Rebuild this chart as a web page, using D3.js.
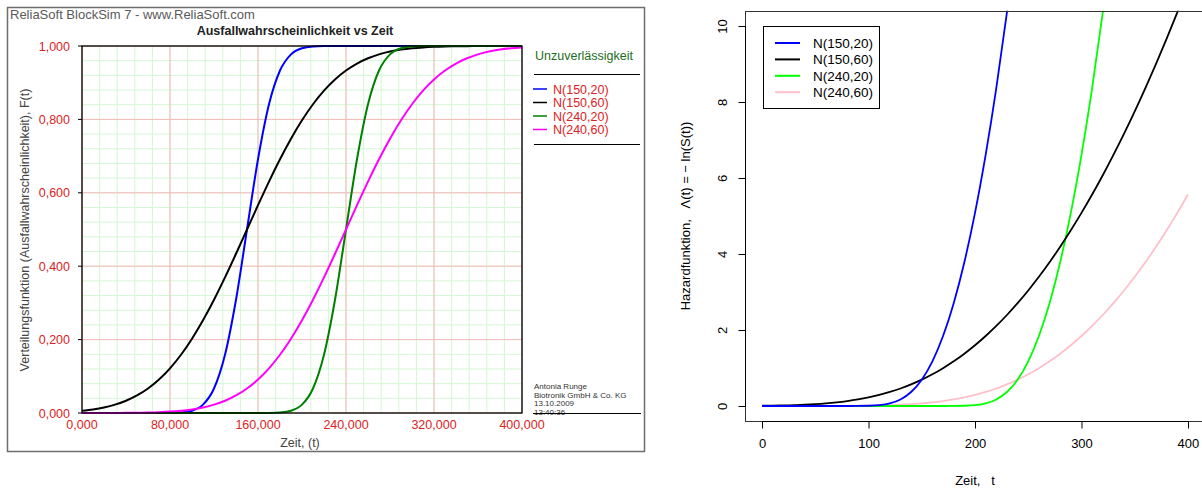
<!DOCTYPE html>
<html>
<head>
<meta charset="utf-8">
<script src="https://cdn.jsdelivr.net/npm/d3@7"></script>
<style>
html,body{margin:0;padding:0;background:#fff;}
svg{display:block;}
</style>
</head>
<body>
<svg id="chart" width="1202" height="488"></svg>
<script>
// ---------------- DATA ----------------
const seriesNames = ["N(150,20)", "N(150,60)", "N(240,20)", "N(240,60)"];
const timeGrid = [0,10,20,30,40,50,60,70,80,90,100,110,120,130,140,150,160,170,180,190,200,
  210,220,230,240,250,260,270,280,290,300,310,320,330,340,350,360,370,380,390,400];

// Left chart: unreliability F(t)
const F_150_20 = [0,0,0,0,0,0,0.0000034,0.0000317,0.000233,0.00135,0.00621,0.02275,0.06681,0.15866,0.30854,0.5,
  0.69146,0.84134,0.93319,0.97725,0.99379,0.99865,0.99977,0.99997,1,1,1,1,1,1,1,1,1,1,1,1,1,1,1,1,1];
const F_150_60 = [0.00621,0.00982,0.01513,0.02275,0.03338,0.04779,0.06681,0.09121,0.12167,0.15866,0.20233,
  0.25249,0.30854,0.36944,0.43381,0.5,0.56619,0.63056,0.69146,0.74751,0.79767,0.84134,0.87833,0.90879,0.93319,
  0.95221,0.96662,0.97725,0.98487,0.99018,0.99379,0.99617,0.99770,0.99865,0.99923,0.99957,0.99977,0.99988,0.99994,0.99997,0.99998];
const F_240_20 = [0,0,0,0,0,0,0,0,0,0,0,0,0,0,0,0.0000034,0.0000317,0.000233,0.00135,0.00621,0.02275,
  0.06681,0.15866,0.30854,0.5,0.69146,0.84134,0.93319,0.97725,0.99379,0.99865,0.99977,0.99997,1,1,1,1,1,1,1,1];
const F_240_60 = [0.00003,0.00006,0.00012,0.00023,0.00043,0.00077,0.00135,0.0023,0.00383,0.00621,0.00982,
  0.01513,0.02275,0.03338,0.04779,0.06681,0.09121,0.12167,0.15866,0.20233,0.25249,0.30854,0.36944,0.43381,0.5,
  0.56619,0.63056,0.69146,0.74751,0.79767,0.84134,0.87833,0.90879,0.93319,0.95221,0.96662,0.97725,0.98487,0.99018,0.99379,0.99617];

// Right chart: cumulative hazard Λ(t)
const H_150_20 = [0,0,0,0,0,0,0.0000034,0.0000317,0.000233,0.00135,0.00623,0.02301,0.06914,0.17275,0.36895,0.69315,
  1.17591,1.84104,2.70591,3.78324,5.08152,6.6077,8.3652,10.360,12.592];
const H_150_60 = [0.00623,0.00987,0.01522,0.02301,0.03395,0.04897,0.06914,0.09564,0.12974,0.17275,0.22606,
  0.29102,0.36895,0.46113,0.56882,0.69315,0.83515,0.99576,1.17591,1.37639,1.59784,1.84104,2.10648,2.39458,2.70591,
  3.04094,3.39985,3.78324,4.19106,4.62333,5.08152,5.56479,6.0734,6.6077,7.1678,7.7540,8.3652,9.0042,9.669,10.360,11.078];
const H_240_20 = [0,0,0,0,0,0,0,0,0,0,0,0,0,0,0,0.0000034,0.0000317,0.000233,0.00135,0.00623,0.02301,
  0.06914,0.17275,0.36895,0.69315,1.17591,1.84104,2.70591,3.78324,5.08152,6.6077,8.3652,10.360,12.592];
const H_240_60 = [0.00003,0.00006,0.00012,0.00023,0.00043,0.00077,0.00135,0.00231,0.00384,0.00623,0.00987,
  0.01522,0.02301,0.03395,0.04897,0.06914,0.09564,0.12974,0.17275,0.22606,0.29102,0.36895,0.46113,0.56882,0.69315,
  0.83515,0.99576,1.17591,1.37639,1.59784,1.84104,2.10648,2.39458,2.70591,3.04094,3.39985,3.78324,4.19106,4.62333,5.08152,5.56479];

const leftXTicks = [0,80,160,240,320,400];
const leftXTickLabels = ["0,000","80,000","160,000","240,000","320,000","400,000"];
const leftYTicks = [0,0.2,0.4,0.6,0.8,1.0];
const leftYTickLabels = ["0,000","0,200","0,400","0,600","0,800","1,000"];
const rightXTicks = [0,100,200,300,400];
const rightYTicks = [0,2,4,6,8,10];

const leftColors = ["#0000ff","#000000","#008000","#ff00ff"];
const rightColors = ["#0000ff","#000000","#00ff00","#ffc0cb"];

// ---------------- DRAW ----------------
const svg = d3.select("#chart");
const FONT = "'Liberation Sans', Arial, sans-serif";
const RED = "#dd2222";

// ===== LEFT PANEL =====
const L = svg.append("g");
L.append("rect").attr("x",7.5).attr("y",7.5).attr("width",637).attr("height",444)
  .attr("fill","#fff").attr("stroke","#6e6e6e").attr("stroke-width",1.5);

L.append("text").attr("x",10).attr("y",19).attr("font-family",FONT).attr("font-size",13)
  .attr("fill","#5a5a5a").text("ReliaSoft BlockSim 7 - www.ReliaSoft.com");
L.append("text").attr("x",295).attr("y",35).attr("text-anchor","middle").attr("font-family",FONT)
  .attr("font-size",12.5).attr("font-weight","bold").attr("fill","#222").text("Ausfallwahrscheinlichkeit vs Zeit");

const xL = d3.scaleLinear().domain([0,400]).range([82,522]);
const yL = d3.scaleLinear().domain([0,1]).range([413,46]);

// minor grid
const minorX = d3.range(0,401,16), minorY = d3.range(0,1.0001,0.04);
L.append("g").selectAll("line").data(minorX).join("line")
  .attr("x1",d=>xL(d)).attr("x2",d=>xL(d)).attr("y1",yL(0)).attr("y2",yL(1))
  .attr("stroke","#d4f7d4").attr("stroke-width",1);
L.append("g").selectAll("line").data(minorY).join("line")
  .attr("y1",d=>yL(d)).attr("y2",d=>yL(d)).attr("x1",xL(0)).attr("x2",xL(400))
  .attr("stroke","#d4f7d4").attr("stroke-width",1);
// major grid
L.append("g").selectAll("line").data(leftXTicks).join("line")
  .attr("x1",d=>xL(d)).attr("x2",d=>xL(d)).attr("y1",yL(0)).attr("y2",yL(1))
  .attr("stroke","#f5b8b8").attr("stroke-width",1);
L.append("g").selectAll("line").data(leftYTicks).join("line")
  .attr("y1",d=>yL(d)).attr("y2",d=>yL(d)).attr("x1",xL(0)).attr("x2",xL(400))
  .attr("stroke","#f5b8b8").attr("stroke-width",1);

// curves
const leftSeries = [F_150_20, F_150_60, F_240_20, F_240_60];
const lineL = d3.line().x(d=>xL(d[0])).y(d=>yL(d[1])).curve(d3.curveMonotoneX);
leftSeries.forEach((s,i)=>{
  L.append("path").datum(timeGrid.map((t,j)=>[t,s[j]]))
    .attr("d",lineL).attr("fill","none").attr("stroke",leftColors[i]).attr("stroke-width",2);
});

// plot border
L.append("rect").attr("x",xL(0)).attr("y",yL(1)).attr("width",xL(400)-xL(0)).attr("height",yL(0)-yL(1))
  .attr("fill","none").attr("stroke","#000").attr("stroke-width",1.3);

// y ticks and labels
L.append("g").selectAll("line").data(leftYTicks).join("line")
  .attr("x1",xL(0)-4).attr("x2",xL(0)).attr("y1",d=>yL(d)).attr("y2",d=>yL(d)).attr("stroke","#000");
L.append("g").selectAll("text").data(leftYTicks).join("text")
  .attr("x",70).attr("y",d=>yL(d)+4.5).attr("text-anchor","end")
  .attr("font-family",FONT).attr("font-size",12.5).attr("fill",RED).text((d,i)=>leftYTickLabels[i]);
// x labels
L.append("g").selectAll("text").data(leftXTicks).join("text")
  .attr("x",d=>xL(d)).attr("y",429).attr("text-anchor","middle")
  .attr("font-family",FONT).attr("font-size",12.5).attr("fill",RED).text((d,i)=>leftXTickLabels[i]);

L.append("text").attr("x",300).attr("y",447).attr("text-anchor","middle").attr("font-family",FONT)
  .attr("font-size",12.5).attr("fill","#444").text("Zeit, (t)");
L.append("text").attr("transform","translate(29,230) rotate(-90)").attr("text-anchor","middle")
  .attr("font-family",FONT).attr("font-size",12.5).attr("fill","#444")
  .text("Verteilungsfunktion (Ausfallwahrscheinlichkeit), F(t)");

// legend
L.append("text").attr("x",535).attr("y",60).attr("font-family",FONT).attr("font-size",12.5)
  .attr("fill","#1b6e1b").text("Unzuverlässigkeit");
L.append("line").attr("x1",534).attr("x2",640).attr("y1",74.5).attr("y2",74.5).attr("stroke","#000");
L.append("line").attr("x1",534).attr("x2",640).attr("y1",144.5).attr("y2",144.5).attr("stroke","#000");
seriesNames.forEach((n,i)=>{
  const yy = 89 + i*13.5;
  L.append("line").attr("x1",533).attr("x2",547).attr("y1",yy).attr("y2",yy)
    .attr("stroke",leftColors[i]).attr("stroke-width",1.5);
  L.append("text").attr("x",553).attr("y",yy+4.5).attr("font-family",FONT).attr("font-size",12.5)
    .attr("fill",RED).text(n);
});

// annotation
const notes = ["Antonia Runge","Biotronik GmbH & Co. KG","13.10.2009","13:40:36"];
notes.forEach((n,i)=>{
  L.append("text").attr("x",534).attr("y",389 + i*8.5).attr("font-family",FONT).attr("font-size",8)
    .attr("fill","#333").text(n);
});
L.append("line").attr("x1",533).attr("x2",641).attr("y1",413.5).attr("y2",413.5).attr("stroke","#000");

// ===== RIGHT PANEL =====
const R = svg.append("g");
const xR = d3.scaleLinear().domain([-16,416]).range([745,1205]);
const yR = d3.scaleLinear().domain([-0.4,10.4]).range([421.2,10.8]);

R.append("clipPath").attr("id","clipR").append("rect")
  .attr("x",xR(-16)).attr("y",yR(10.4)).attr("width",xR(416)-xR(-16)).attr("height",yR(-0.4)-yR(10.4));

const rightSeries = [H_150_20, H_150_60, H_240_20, H_240_60];
const lineR = d3.line().x(d=>xR(d[0])).y(d=>yR(d[1])).curve(d3.curveMonotoneX);
const gc = R.append("g").attr("clip-path","url(#clipR)");
// draw order: pink first so others overlay
[3,2,1,0].forEach(i=>{
  const s = rightSeries[i];
  gc.append("path").datum(s.map((v,j)=>[timeGrid[j],v]))
    .attr("d",lineR).attr("fill","none").attr("stroke",rightColors[i]).attr("stroke-width",1.8);
});

R.append("rect").attr("x",xR(-16)+0.5).attr("y",Math.round(yR(10.4))+0.5)
  .attr("width",xR(416)-xR(-16)).attr("height",Math.round(yR(-0.4))-Math.round(yR(10.4)))
  .attr("fill","none").attr("stroke","#333").attr("stroke-width",1);

const axB = d3.axisBottom(xR).tickValues(rightXTicks).tickSize(7).tickPadding(10).tickFormat(d3.format("d"));
const gB = R.append("g").attr("transform",`translate(0,${Math.round(yR(-0.4))+0.5})`).call(axB);
gB.select(".domain").attr("d",`M${xR(0)},0H${xR(400)}`).attr("stroke","#000");
gB.selectAll("text").attr("font-family",FONT).attr("font-size",13).attr("fill","#000");

const axLft = d3.axisLeft(yR).tickValues(rightYTicks).tickSize(7).tickFormat(d3.format("d"));
const gLft = R.append("g").attr("transform",`translate(${xR(-16)+0.5},0)`).call(axLft);
gLft.select(".domain").attr("d",`M0,${yR(0)}V${yR(10)}`).attr("stroke","#000");
gLft.selectAll("text").attr("font-family",FONT).attr("font-size",13).attr("fill","#000")
  .attr("text-anchor","middle").attr("x",0).attr("dy",0)
  .attr("transform",d=>`translate(-19,0) rotate(-90)`);

R.append("text").attr("x",(xR(-16)+xR(416))/2).attr("y",485).attr("text-anchor","middle")
  .attr("font-family",FONT).attr("font-size",13).attr("fill","#000").attr("xml:space","preserve").text("Zeit,   t");
R.append("text").attr("transform",`translate(690,${(yR(10.4)+yR(-0.4))/2}) rotate(-90)`)
  .attr("text-anchor","middle").attr("font-family",FONT).attr("font-size",13).attr("fill","#000")
  .attr("xml:space","preserve").text("Hazardfunktion,   \u039B(t) = \u2212 ln(S(t))");

// legend
R.append("rect").attr("x",763.5).attr("y",26.5).attr("width",116).attr("height",82)
  .attr("fill","#fff").attr("stroke","#000").attr("stroke-width",1);
seriesNames.forEach((n,i)=>{
  const yy = 43 + i*16.4;
  R.append("line").attr("x1",775).attr("x2",800).attr("y1",yy).attr("y2",yy)
    .attr("stroke",rightColors[i]).attr("stroke-width",2);
  R.append("text").attr("x",813).attr("y",yy+4.8).attr("font-family",FONT).attr("font-size",13.5)
    .attr("fill","#000").text(n);
});
</script>
</body>
</html>
